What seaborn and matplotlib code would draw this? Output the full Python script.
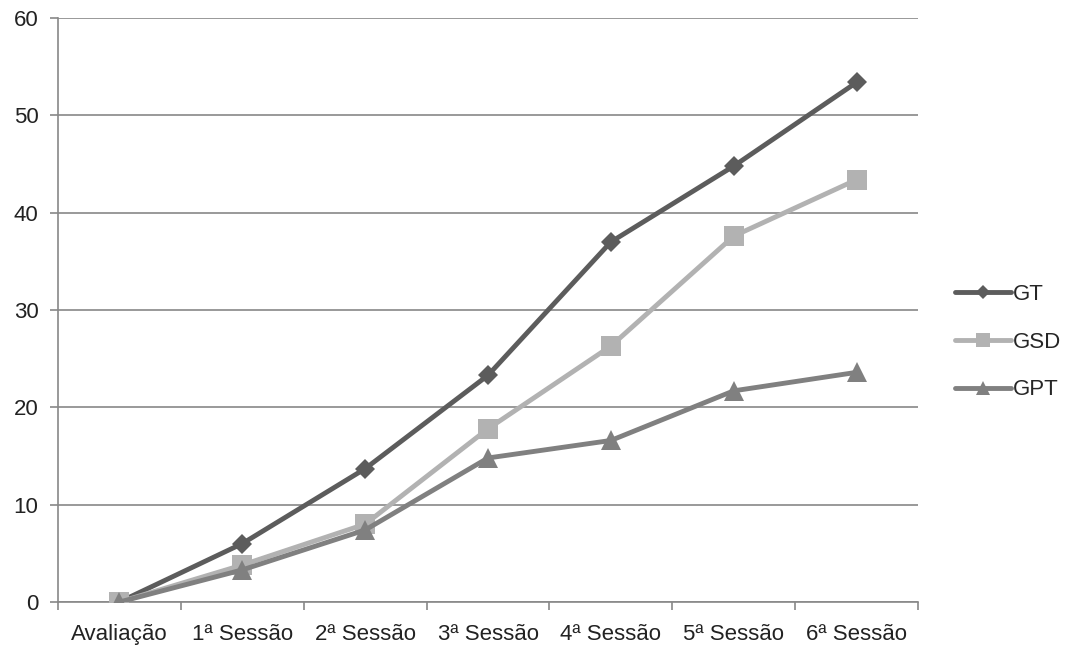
import numpy as np
import pandas as pd
import matplotlib
matplotlib.use("Agg")
import matplotlib.pyplot as plt
import seaborn as sns
from matplotlib.ticker import FixedLocator, NullFormatter, FixedFormatter

categories = ["Avaliação", "1ª Sessão", "2ª Sessão", "3ª Sessão", "4ª Sessão", "5ª Sessão", "6ª Sessão"]
gt = [0, 6.0, 13.7, 23.3, 37.0, 44.8, 53.4]
gsd = [0, 3.8, 8.0, 17.8, 26.3, 37.6, 43.4]
gpt = [0, 3.3, 7.4, 14.8, 16.6, 21.7, 23.6]
series_names = ["GT", "GSD", "GPT"]
y_ticks = [0, 10, 20, 30, 40, 50, 60]

df = pd.concat([
    pd.DataFrame({"pos": np.arange(len(categories)), "valor": vals, "grupo": name})
    for name, vals in zip(series_names, [gt, gsd, gpt])
], ignore_index=True)

sns.set_theme(style="white")
plt.rcParams["font.family"] = ["Liberation Sans", "DejaVu Sans"]

fig = plt.figure(figsize=(10.66, 6.48), dpi=100)
ax = fig.add_axes([0.0544, 0.071, 0.8068, 0.901])

palette = {"GT": "#5c5c5c", "GSD": "#b2b2b2", "GPT": "#808080"}
markers = {"GT": "D", "GSD": "s", "GPT": "^"}
sizes = {"GT": 10, "GSD": 14, "GPT": 14}

sns.lineplot(data=df, x="pos", y="valor", hue="grupo", style="grupo",
             palette=palette, markers=markers, dashes=False, linewidth=3.5,
             markersize=12, markeredgewidth=0, ax=ax, legend=False, zorder=3)
for line, name in zip(ax.get_lines(), series_names):
    line.set_markersize(sizes[name])

ax.set_xlim(-0.5, len(categories) - 0.5)
ax.set_ylim(0, 60)
ax.set_xlabel("")
ax.set_ylabel("")

ax.xaxis.set_major_locator(FixedLocator(np.arange(-0.5, len(categories), 1.0)))
ax.xaxis.set_major_formatter(NullFormatter())
ax.xaxis.set_minor_locator(FixedLocator(np.arange(len(categories))))
ax.xaxis.set_minor_formatter(FixedFormatter(categories))
ax.tick_params(axis="x", which="major", length=6, width=1.2, color="#888888", direction="out", bottom=True)
ax.tick_params(axis="x", which="minor", length=0, pad=16, labelsize=16, labelcolor="#222222", bottom=True)

ax.set_yticks(y_ticks)
ax.tick_params(axis="y", length=6, width=1.2, color="#888888", direction="out", left=True,
               labelsize=16, labelcolor="#222222", pad=8)
ax.yaxis.grid(True, color="#888888", linewidth=1.2)
ax.set_axisbelow(True)

for side in ["top", "right"]:
    ax.spines[side].set_visible(False)
for side in ["left", "bottom"]:
    ax.spines[side].set_color("#888888")
    ax.spines[side].set_linewidth(1.2)

handles = [plt.Line2D([], [], color=palette[n], marker=markers[n], markersize=sizes[n] * 0.75,
                      markeredgewidth=0, linewidth=3.5) for n in series_names]
fig.legend(handles, series_names, loc="center left", bbox_to_anchor=(0.896, 0.472),
           frameon=False, fontsize=16, handlelength=2.5, handletextpad=0.1,
           labelspacing=1.2, borderpad=0, borderaxespad=0)

fig.savefig("out.png", dpi=100, facecolor="white")
